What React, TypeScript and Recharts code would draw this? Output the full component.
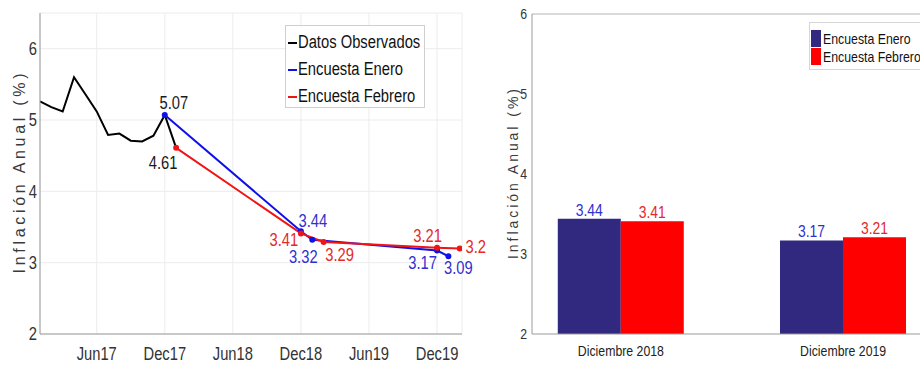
import React from 'react';
import {
  LineChart,
  Line,
  XAxis,
  YAxis,
  CartesianGrid,
  Legend,
  LabelList,
  BarChart,
  Bar,
  ReferenceLine,
} from 'recharts';

// ---------- Data (left chart) ----------
const observedMonths = ['Jan17', 'Feb17', 'Mar17', 'Apr17', 'May17', 'Jun17', 'Jul17', 'Aug17', 'Sep17', 'Oct17', 'Nov17', 'Dec17', 'Jan18'];
const observedValues = [5.26, 5.18, 5.12, 5.6, 5.36, 5.12, 4.79, 4.81, 4.71, 4.7, 4.78, 5.07, 4.61];
const eneroMonths = ['Dec17', 'Dec18', 'Jan19', 'Dec19', 'Jan20'];
const eneroValues = [5.07, 3.44, 3.32, 3.17, 3.09];
const febreroMonths = ['Jan18', 'Dec18', 'Feb19', 'Dec19', 'Feb20'];
const febreroValues = [4.61, 3.41, 3.29, 3.21, 3.2];
const xTickLabels = ['Jun17', 'Dec17', 'Jun18', 'Dec18', 'Jun19', 'Dec19'];
const yTicksLeft = [2, 3, 4, 5, 6];
const lineSeriesNames = ['Datos Observados', 'Encuesta Enero', 'Encuesta Febrero'];

// ---------- Data (right chart) ----------
const barCategories = ['Diciembre 2018', 'Diciembre 2019'];
const barEnero = [3.44, 3.17];
const barFebrero = [3.41, 3.21];
const yTicksRight = [2, 3, 4, 5, 6];
const barSeriesNames = ['Encuesta Enero', 'Encuesta Febrero'];

// ---------- Styles ----------
const SANS = "'Liberation Sans', Arial, sans-serif";
const SX = 0.82; // horizontal condensing of text
const BLUE_LINE = '#1010e8';
const RED_LINE = '#f01414';
const BLUE_TEXT = '#3030d0';
const RED_TEXT = '#e62828';
const NAVY_BAR = '#31297f';
const RED_BAR = '#ff0000';
const AXIS_GRAY = '#9a9a9a';
const lineColors = ['#000000', BLUE_LINE, RED_LINE];
const barColors = [NAVY_BAR, RED_BAR];

// label offsets (dx, dy) per month key — styling only
const obsLabelOffsets: Record<string, [number, number]> = { Dec17: [9, -12.5], Jan18: [-13, 14.5] };
const eneroLabelOffsets: Record<string, [number, number]> = { Dec18: [12, -11], Jan19: [-9, 17], Dec19: [-14.5, 12], Jan20: [10, 11] };
const febreroLabelOffsets: Record<string, [number, number]> = { Dec18: [-17, 6.5], Feb19: [16, 13], Dec19: [-9.5, -12], Feb20: [16, -2] };

const MONTHS = ['Jan', 'Feb', 'Mar', 'Apr', 'May', 'Jun', 'Jul', 'Aug', 'Sep', 'Oct', 'Nov', 'Dec'];
const monthIndex = (s: string) => (parseInt(s.slice(3), 10) - 17) * 12 + MONTHS.indexOf(s.slice(0, 3));

type Row = { m: number; label: string; obs?: number; ene?: number; feb?: number };
const rowMap = new Map<number, Row>();
const put = (months: string[], values: number[], key: 'obs' | 'ene' | 'feb') => {
  months.forEach((ms, i) => {
    const idx = monthIndex(ms);
    const r = rowMap.get(idx) || { m: idx, label: ms };
    r[key] = values[i];
    rowMap.set(idx, r);
  });
};
put(observedMonths, observedValues, 'obs');
put(eneroMonths, eneroValues, 'ene');
put(febreroMonths, febreroValues, 'feb');
const lineTable: Row[] = Array.from(rowMap.values()).sort((a, b) => a.m - b.m);
const xTickIdx = xTickLabels.map(monthIndex);
const xTickText: Record<number, string> = {};
xTickLabels.forEach((l) => (xTickText[monthIndex(l)] = l));

const barTable = barCategories.map((c, i) => ({ x: i + 1, cat: c, ene: barEnero[i], feb: barFebrero[i] }));

const NText = (p: { x: number; y: number; anchor?: string; size: number; fill: string; dy?: string; children: any }) => (
  <text
    transform={`translate(${p.x} ${p.y}) scale(${SX} 1)`}
    x={0}
    y={0}
    dy={p.dy}
    textAnchor={p.anchor || 'middle'}
    fontFamily={SANS}
    fontSize={p.size}
    fill={p.fill}
  >
    {p.children}
  </text>
);

const makePointLabel = (offsets: Record<string, [number, number]>, color: string) => (props: any) => {
  const { x, y, value, index } = props;
  if (value == null || x == null || y == null) return null;
  const row = lineTable[index];
  if (!row) return null;
  const off = offsets[row.label];
  if (!off) return null;
  return (
    <NText x={x + off[0]} y={y + off[1]} size={18} fill={color} dy="0.36em">
      {String(value)}
    </NText>
  );
};

const makeBarLabel = (color: string) => (props: any) => {
  const { x, y, width, value } = props;
  if (value == null) return null;
  return (
    <NText x={x + width / 2} y={y - 3} size={17} fill={color}>
      {String(value)}
    </NText>
  );
};

const makeXTick = (size: number, fill: string, fmt: (v: number) => string) => (props: any) => {
  const { x, y, payload } = props;
  return (
    <NText x={x} y={y} size={size} fill={fill} dy="0.71em">
      {fmt(payload.value)}
    </NText>
  );
};

const makeYTick = (size: number, fill: string) => (props: any) => {
  const { x, y, payload } = props;
  return (
    <NText x={x} y={y} size={size} fill={fill} anchor="end" dy="0.355em">
      {String(payload.value)}
    </NText>
  );
};

const LeftLegend = () => (
  <div
    style={{
      width: 140,
      height: 83,
      boxSizing: 'border-box',
      border: '1px solid #cfcfcf',
      background: '#fff',
      fontFamily: SANS,
      fontSize: 18,
      color: '#111',
      paddingTop: 3,
    }}
  >
    {lineSeriesNames.map((name, i) => (
      <div key={name} style={{ display: 'flex', alignItems: 'center', height: 27, whiteSpace: 'nowrap' }}>
        <span style={{ display: 'inline-block', width: 9, height: 2, background: lineColors[i], marginLeft: 2, marginRight: 1, flex: 'none' }} />
        <span style={{ display: 'inline-block', transform: `scaleX(${SX})`, transformOrigin: 'left center' }}>{name}</span>
      </div>
    ))}
  </div>
);

const RightLegend = () => (
  <div
    style={{
      width: 130,
      height: 48,
      boxSizing: 'border-box',
      border: '1px solid #d6d6d6',
      background: '#fff',
      fontFamily: SANS,
      fontSize: 15,
      color: '#111',
      paddingTop: 6,
    }}
  >
    {barSeriesNames.map((name, i) => (
      <div key={name} style={{ display: 'flex', alignItems: 'center', height: 18, whiteSpace: 'nowrap' }}>
        <span style={{ display: 'inline-block', width: 10, height: 17, background: barColors[i], marginLeft: 1, marginRight: 2, flex: 'none' }} />
        <span style={{ display: 'inline-block', transform: `scaleX(${SX})`, transformOrigin: 'left center' }}>{name}</span>
      </div>
    ))}
  </div>
);

const makeYLabel = (dxFromAxisBox: number, fontSize: number, length: number) => (props: any) => {
  const vb = props.viewBox || {};
  const cx = (vb.x || 0) + dxFromAxisBox;
  const cy = (vb.y || 0) + (vb.height || 0) / 2;
  return (
    <text
      x={cx}
      y={cy}
      transform={`rotate(-90 ${cx} ${cy})`}
      textAnchor="middle"
      fontFamily={SANS}
      fontSize={fontSize}
      fill="#3a3a3a"
      textLength={length}
      lengthAdjust="spacing"
    >
      Inflación Anual (%)
    </text>
  );
};

export default function App() {
  return (
    <div
      style={{
        position: 'fixed',
        left: 0,
        top: 0,
        width: 920,
        height: 368,
        overflow: 'hidden',
        background: '#fff',
      }}
    >
      <div style={{ position: 'absolute', left: 0, top: 0 }}>
        <LineChart width={500} height={368} data={lineTable} margin={{ top: 13, right: 38, bottom: 0, left: 10 }}>
          <CartesianGrid stroke="#ececec" strokeWidth={1} />
          <XAxis
            dataKey="m"
            type="number"
            domain={[0, 37.2]}
            allowDataOverflow
            ticks={xTickIdx}
            height={34}
            tickSize={0}
            tickMargin={13}
            axisLine={{ stroke: AXIS_GRAY }}
            tick={makeXTick(18, '#333', (v) => xTickText[v] || '')}
          />
          <YAxis
            type="number"
            domain={[2, 6.5]}
            allowDataOverflow
            ticks={yTicksLeft}
            width={30}
            tickSize={0}
            tickMargin={3}
            axisLine={{ stroke: AXIS_GRAY }}
            tick={makeYTick(18, '#333')}
            label={makeYLabel(15, 16, 200)}
          />
          <Legend
            layout="vertical"
            align="center"
            verticalAlign="middle"
            content={LeftLegend}
            wrapperStyle={{ left: 285, top: 25, width: 140, height: 83 }}
          />
          <Line
            name={lineSeriesNames[0]}
            dataKey="obs"
            stroke={lineColors[0]}
            strokeWidth={2}
            dot={false}
            connectNulls
            isAnimationActive={false}
          >
            <LabelList dataKey="obs" content={makePointLabel(obsLabelOffsets, '#1a1a1a')} />
          </Line>
          <Line
            name={lineSeriesNames[1]}
            dataKey="ene"
            stroke={lineColors[1]}
            strokeWidth={2}
            dot={{ r: 2, fill: BLUE_LINE, stroke: BLUE_LINE }}
            connectNulls
            isAnimationActive={false}
          >
            <LabelList dataKey="ene" content={makePointLabel(eneroLabelOffsets, BLUE_TEXT)} />
          </Line>
          <Line
            name={lineSeriesNames[2]}
            dataKey="feb"
            stroke={lineColors[2]}
            strokeWidth={2}
            dot={{ r: 2, fill: RED_LINE, stroke: RED_LINE }}
            connectNulls
            isAnimationActive={false}
          >
            <LabelList dataKey="feb" content={makePointLabel(febreroLabelOffsets, RED_TEXT)} />
          </Line>
        </LineChart>
      </div>
      <div style={{ position: 'absolute', left: 470, top: 0 }}>
        <BarChart width={470} height={368} data={barTable} margin={{ top: 14, right: 8, bottom: 0, left: 10 }} barGap={0}>
          <XAxis
            dataKey="x"
            type="number"
            domain={[0.6, 2.4]}
            allowDataOverflow
            ticks={[1, 2]}
            height={34}
            tickSize={0}
            tickMargin={11}
            axisLine={{ stroke: AXIS_GRAY }}
            tick={makeXTick(15, '#222', (v) => barCategories[v - 1] || '')}
          />
          <YAxis
            type="number"
            domain={[2, 6]}
            allowDataOverflow
            ticks={yTicksRight}
            width={52}
            tickSize={0}
            tickMargin={5}
            axisLine={{ stroke: AXIS_GRAY }}
            tick={makeYTick(15, '#333')}
            label={makeYLabel(38, 14, 170)}
          />
          <ReferenceLine y={6} stroke="#b4b4b4" strokeWidth={1} />
          <Legend
            layout="vertical"
            align="center"
            verticalAlign="middle"
            content={RightLegend}
            wrapperStyle={{ left: 339, top: 22, width: 130, height: 48 }}
          />
          <Bar name={barSeriesNames[0]} dataKey="ene" fill={NAVY_BAR} barSize={63} isAnimationActive={false}>
            <LabelList dataKey="ene" content={makeBarLabel(BLUE_TEXT)} />
          </Bar>
          <Bar name={barSeriesNames[1]} dataKey="feb" fill={RED_BAR} barSize={63} isAnimationActive={false}>
            <LabelList dataKey="feb" content={makeBarLabel(RED_TEXT)} />
          </Bar>
        </BarChart>
      </div>
    </div>
  );
}
